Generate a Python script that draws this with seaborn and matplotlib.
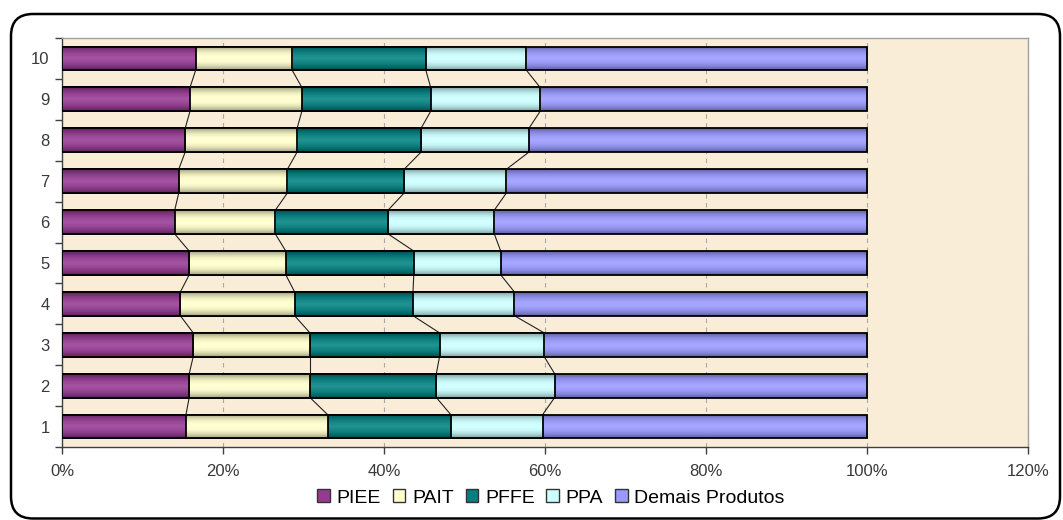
import numpy as np
import pandas as pd
import matplotlib
matplotlib.use("Agg")
import matplotlib.pyplot as plt
from matplotlib.patches import Patch, FancyBboxPatch
from matplotlib.transforms import IdentityTransform
from matplotlib.ticker import FixedLocator, FuncFormatter
import seaborn as sns

# Share of each product line per period (percent of total)
periods = ["1", "2", "3", "4", "5", "6", "7", "8", "9", "10"]
piee = [15.4, 15.8, 16.3, 14.7, 15.8, 14.0, 14.5, 15.3, 15.9, 16.6]
pait = [17.6, 15.0, 14.5, 14.2, 12.0, 12.5, 13.5, 13.9, 13.9, 12.0]
pffe = [15.3, 15.7, 16.1, 14.7, 15.9, 14.0, 14.5, 15.4, 16.0, 16.6]
ppa = [11.4, 14.7, 13.0, 12.6, 10.8, 13.2, 12.7, 13.4, 13.6, 12.5]
demais = [40.3, 38.8, 40.1, 43.8, 45.5, 46.3, 44.8, 42.0, 40.6, 42.3]

series_names = ["PIEE", "PAIT", "PFFE", "PPA", "Demais Produtos"]
series_colors = ["#953A92", "#FFFFCC", "#008080", "#CCFFFF", "#9999FF"]
x_ticks = [0, 20, 40, 60, 80, 100, 120]

sns.set_theme(style="white")
plt.rcParams["font.family"] = ["Liberation Sans", "DejaVu Sans"]
tick_font = ["Liberation Sans Narrow", "Liberation Sans", "DejaVu Sans"]

df = pd.DataFrame({"periodo": periods, "PIEE": piee, "PAIT": pait,
                   "PFFE": pffe, "PPA": ppa, "Demais Produtos": demais})
cum = df[series_names].cumsum(axis=1)
cum["periodo"] = df["periodo"]

W, H = 1063, 520
fig = plt.figure(figsize=(W / 100, H / 100), dpi=100, facecolor="white")
ax = fig.add_axes([62 / W, 1 - 447 / H, (1028 - 62) / W, (447 - 38) / H])
ax.set_facecolor("#FAEDD8")

order = periods[::-1]
bar_h = 0.58


def shaded(color, n=64):
    """Vertical gradient: darker at the top and bottom edges of a bar."""
    rgb = np.array(matplotlib.colors.to_rgb(color))
    t = np.linspace(0, 1, n)
    dist = np.abs(2 * t - 1)
    light = 0.14 * (1 - dist) ** 1.5
    dark = 0.40 * dist ** 2.4
    col = rgb[None, :] * (1 - dark[:, None]) + (1 - rgb[None, :]) * light[:, None]
    col = np.clip(col, 0, 1)
    return np.repeat(col[:, None, :], 2, axis=1)


# Stacked bars: draw cumulative totals, widest first, narrower ones on top
for k in reversed(range(len(series_names))):
    name = series_names[k]
    z = 2 + 2 * (len(series_names) - 1 - k)
    n_before = len(ax.patches)
    sns.barplot(data=cum, x=name, y="periodo", order=order, orient="h",
                width=bar_h, color=series_colors[k], saturation=1,
                edgecolor="black", linewidth=1.3, ax=ax, zorder=z)
    grad = shaded(series_colors[k])
    for p in ax.patches[n_before:]:
        x0, y0, w, h = p.get_x(), p.get_y(), p.get_width(), p.get_height()
        im = ax.imshow(grad, extent=(x0, x0 + w, y0, y0 + h), aspect="auto",
                       interpolation="bilinear", zorder=z - 0.5)
        im.set_clip_path(p)
        p.set_facecolor("none")

# Series lines linking segment boundaries of neighbouring bars
pos = {lab: i for i, lab in enumerate(order)}
for name in series_names[:-1]:
    for a, b in zip(periods[:-1], periods[1:]):
        ya = pos[a] - bar_h / 2
        yb = pos[b] + bar_h / 2
        xa = cum.loc[cum["periodo"] == a, name].iloc[0]
        xb = cum.loc[cum["periodo"] == b, name].iloc[0]
        ax.plot([xa, xb], [ya, yb], color="#222222", lw=0.8, zorder=1.5)

ax.set_xlim(0, 120)
ax.set_ylim(len(order) - 0.5, -0.5)
ax.set_xlabel("")
ax.set_ylabel("")

# Dashed vertical gridlines
ax.set_axisbelow(True)
ax.xaxis.grid(True, color="#A8A8A8", linestyle=(0, (4, 4)), lw=0.8)
ax.yaxis.grid(False)

ax.xaxis.set_major_locator(FixedLocator(x_ticks))
ax.xaxis.set_major_formatter(FuncFormatter(lambda v, _: f"{v:.0f}%"))
ax.yaxis.set_minor_locator(FixedLocator(np.arange(-0.5, len(order), 1.0)))

ax.tick_params(axis="x", which="major", bottom=True, length=5, width=1,
               color="#404040", direction="out", labelsize=12,
               labelcolor="#3A3A3A", pad=7)
ax.tick_params(axis="y", which="major", left=True, length=0, labelsize=12,
               labelcolor="#3A3A3A", pad=9)
ax.tick_params(axis="y", which="minor", left=True, length=5, width=1,
               color="#404040", direction="out")
for lab in ax.get_xticklabels() + ax.get_yticklabels():
    lab.set_fontfamily(tick_font)

for side in ["left", "bottom"]:
    ax.spines[side].set_color("#404040")
    ax.spines[side].set_linewidth(1.0)
for side in ["top", "right"]:
    ax.spines[side].set_color("#A0A0A0")
    ax.spines[side].set_linewidth(1.0)

# Legend under the plot area
handles = [Patch(facecolor=c, edgecolor="#333333", lw=1.0) for c in series_colors]
leg = fig.legend(handles, series_names, loc="center",
                 bbox_to_anchor=(551 / W, 1 - 498 / H), ncol=5, frameon=False,
                 fontsize=14, handlelength=0.65, handleheight=0.65,
                 handletextpad=0.35, columnspacing=0.6, borderaxespad=0)
for txt in leg.get_texts():
    txt.set_color("black")

# Rounded chart frame
frame = FancyBboxPatch((11, 1.5), 1049, (H - 14) - 1.5,
                       boxstyle="round,pad=0,rounding_size=22",
                       transform=IdentityTransform(), fill=False,
                       edgecolor="black", linewidth=1.8, clip_on=False)
fig.add_artist(frame)

fig.savefig("out.png", dpi=100, facecolor="white")
